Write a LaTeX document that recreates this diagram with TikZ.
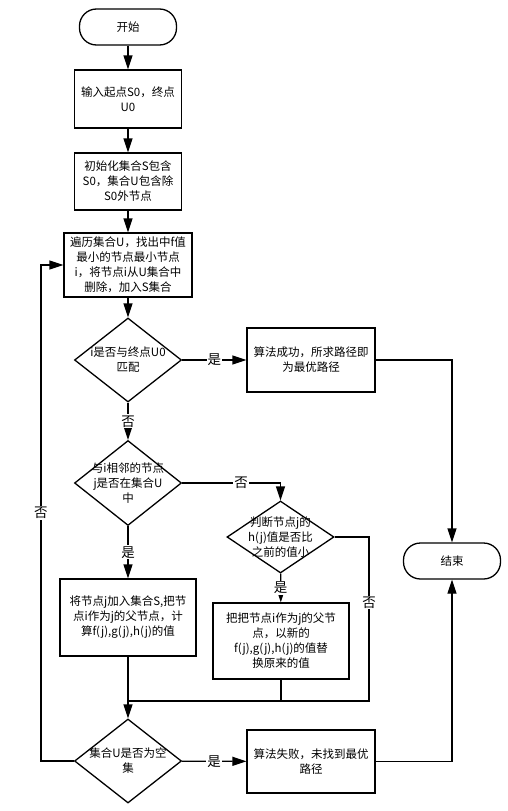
\documentclass[tikz,border=0pt]{standalone}
\usepackage{fontspec}
\setmainfont{Noto Sans CJK SC}
\usetikzlibrary{arrows.meta, shapes.geometric}

\begin{document}
\begin{tikzpicture}[
    x=1pt, y=-1pt,
    every node/.style={font=\fontsize{11.5}{15}\selectfont},
    terminal/.style={
        rectangle,
        draw,
        line width=1.3pt,
        rounded corners=17pt,
        minimum width=97pt,
        minimum height=36pt
    },
    block/.style={
        rectangle,
        draw,
        line width=1.3pt,
        align=center,
        inner sep=2pt
    },
    decision/.style={
        diamond,
        draw,
        line width=1.3pt,
        inner sep=0pt,
        minimum width=107pt
    },
    arrow/.style={
        -{Triangle[length=14pt,width=9pt]},
        line width=1.3pt
    },
    line/.style={line width=1.3pt},
    tag/.style={fill=white, inner sep=1pt, font=\fontsize{13.5}{15}\selectfont}
]
\useasboundingbox (0,0) rectangle (507,811);

\node[terminal] (start) at (128,27) {开始};
\node[block, minimum width=107pt, minimum height=58pt] (input) at (128,99) {输入起点S0，终点\\U0};
\node[block, minimum width=107pt, minimum height=57pt] (init) at (128,181.5) {初始化集合S包含\\S0，集合U包含除\\S0外节点};
\node[block, minimum width=128pt, minimum height=64pt] (pick) at (128,265) {遍历集合U，找出中f值\\最小的节点最小节点\\i，将节点i从U集合中\\删除，加入S集合};
\node[decision, minimum height=84pt, label={[align=center]center:{i是否与终点U0\\匹配}}] (goal) at (128,360) {};
\node[block, minimum width=128pt, minimum height=64pt] (ok) at (311,360) {算法成功，所求路径即\\为最优路径};
\node[decision, minimum height=85pt, label={[align=center]center:{与i相邻的节点\\j是否在集合U\\中}}] (inU) at (128,483) {};
\node[decision, minimum height=72pt, label={[align=center]center:{判断节点j的\\h(j)值是否比\\之前的值小}}] (less) at (280.5,537) {};
\node[block, minimum width=136pt, minimum height=77pt] (add) at (128,617.5) {将节点j加入集合S,把节\\点i作为j的父节点，计\\算f(j),g(j),h(j)的值};
\node[block, minimum width=136pt, minimum height=76pt] (update) at (281,641) {把把节点i作为j的父节\\点，以新的\\f(j),g(j),h(j)的值替\\换原来的值};
\node[decision, minimum height=84pt, label={[align=center]center:{集合U是否为空\\集}}] (empty) at (128,761) {};
\node[block, minimum width=128pt, minimum height=63pt] (fail) at (311,761.5) {算法失败，未找到最优\\路径};
\node[terminal] (end) at (452,561) {结束};

\coordinate (merge) at (128,701);
\coordinate (mergeR) at (369,701);
\coordinate (back) at (41,265);

\draw[arrow] (start) -- (input);
\draw[arrow] (input) -- (init);
\draw[arrow] (init) -- (pick);
\draw[arrow] (pick) -- (goal);
\draw[arrow] (goal) -- node[tag] {是} (ok);
\draw[arrow] (goal) -- node[tag] {否} (inU);
\draw[arrow] (inU.east) -| node[tag, pos=0.3] {否} (less.north);
\draw[arrow] (inU) -- node[tag] {是} (add);
\draw[arrow] (less) -- node[tag] {是} (update);
\draw[line] (less.east) -| node[tag, pos=0.7] {否} (mergeR) -- (merge);
\draw[line] (update.south) -- (update.south |- merge);
\draw[arrow] (add) -- (empty);
\draw[arrow] (empty) -- node[tag] {是} (fail);
\draw[arrow] (empty.west) -| node[tag, pos=0.75] {否} (back) -- (pick.west);
\draw[arrow] (ok.east) -| (end.north);
\draw[arrow] (fail.east) -| (end.south);

\end{tikzpicture}
\end{document}
